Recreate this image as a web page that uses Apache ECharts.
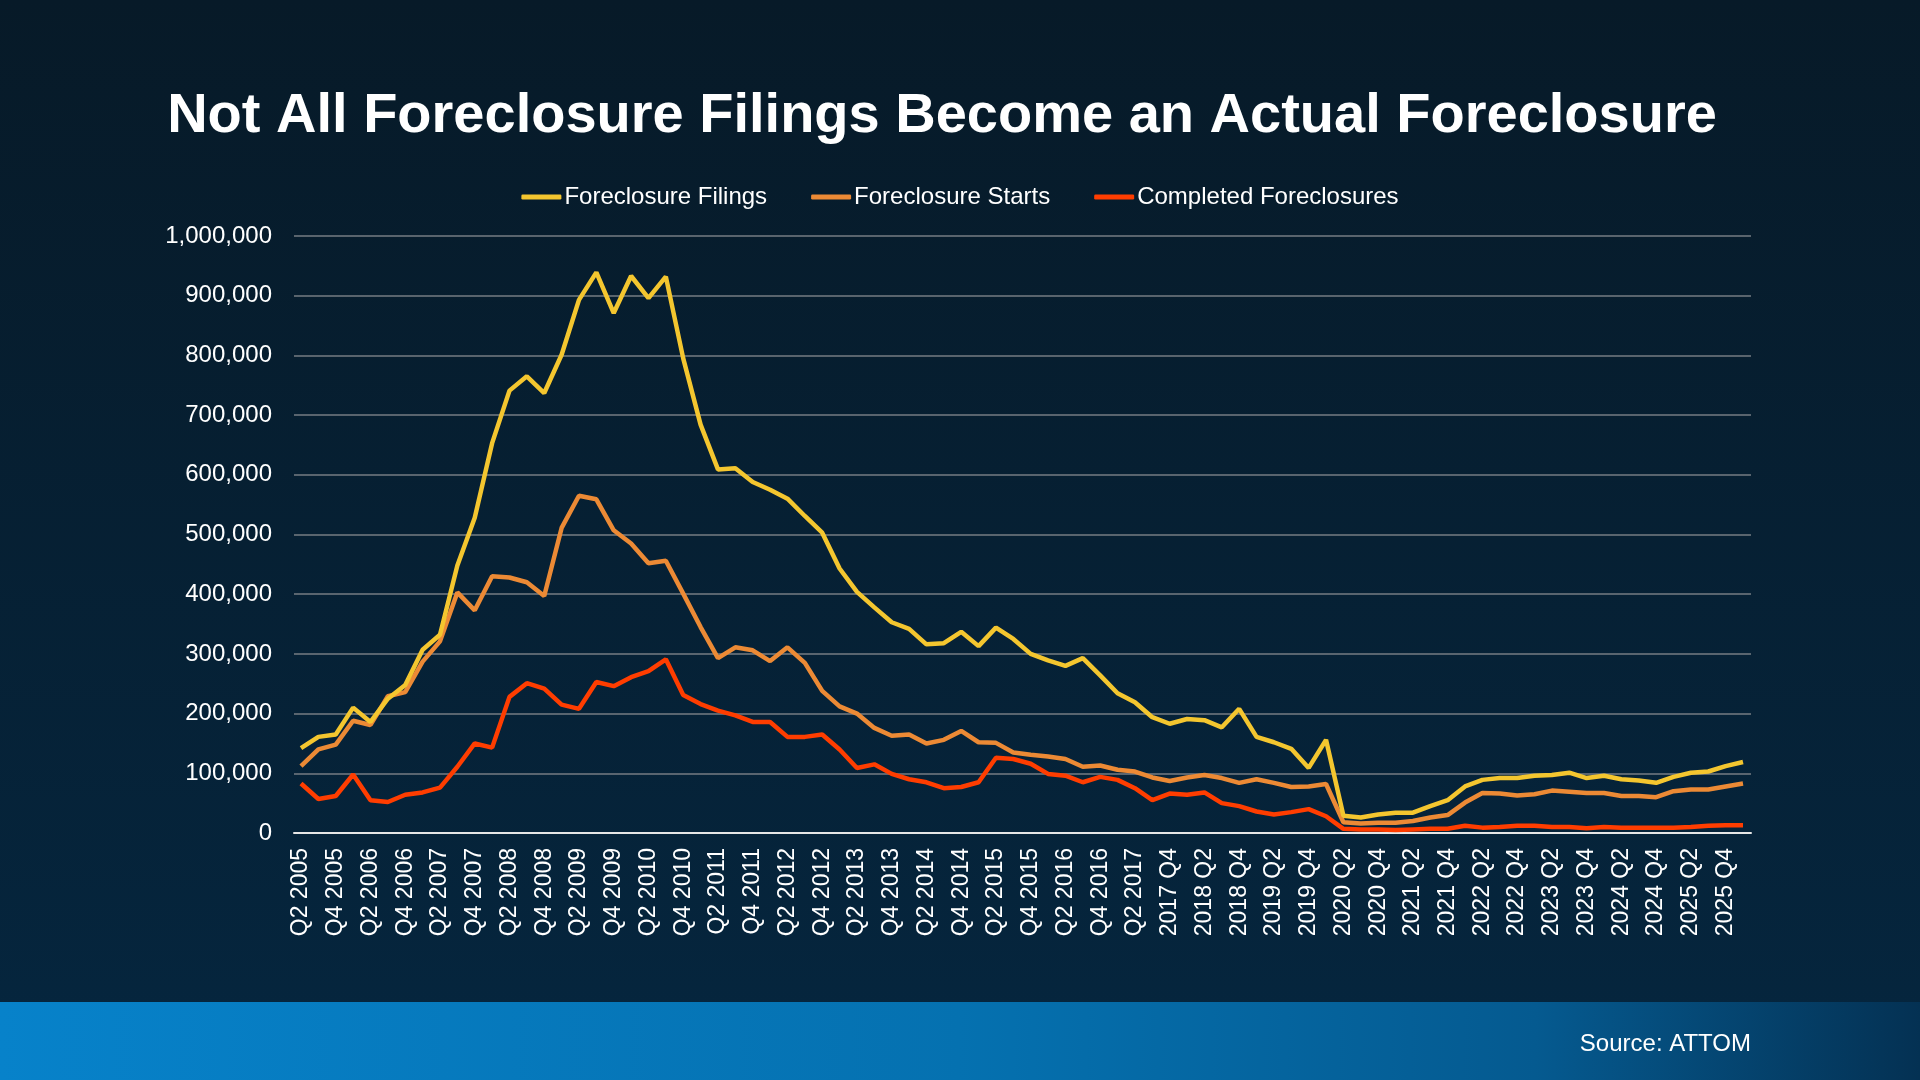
<!DOCTYPE html>
<html>
<head>
<meta charset="utf-8">
<title>Not All Foreclosure Filings Become an Actual Foreclosure</title>
<script src="https://cdn.jsdelivr.net/npm/echarts@6/dist/echarts.min.js"></script>
<style>
  html, body { margin: 0; padding: 0; background: #061a28; }
  #main { width: 1920px; height: 1080px; }
</style>
</head>
<body>
<div id="main"></div>
<script>
// quarters, Q2 2005 .. Q1 2026
var quarters = [
  'Q2 2005','Q3 2005','Q4 2005','Q1 2006','Q2 2006','Q3 2006','Q4 2006','Q1 2007',
  'Q2 2007','Q3 2007','Q4 2007','Q1 2008','Q2 2008','Q3 2008','Q4 2008','Q1 2009',
  'Q2 2009','Q3 2009','Q4 2009','Q1 2010','Q2 2010','Q3 2010','Q4 2010','Q1 2011',
  'Q2 2011','Q3 2011','Q4 2011','Q1 2012','Q2 2012','Q3 2012','Q4 2012','Q1 2013',
  'Q2 2013','Q3 2013','Q4 2013','Q1 2014','Q2 2014','Q3 2014','Q4 2014','Q1 2015',
  'Q2 2015','Q3 2015','Q4 2015','Q1 2016','Q2 2016','Q3 2016','Q4 2016','Q1 2017',
  'Q2 2017','Q3 2017','2017 Q4','2018 Q1','2018 Q2','2018 Q3','2018 Q4','2019 Q1',
  '2019 Q2','2019 Q3','2019 Q4','2020 Q1','2020 Q2','2020 Q3','2020 Q4','2021 Q1',
  '2021 Q2','2021 Q3','2021 Q4','2022 Q1','2022 Q2','2022 Q3','2022 Q4','2023 Q1',
  '2023 Q2','2023 Q3','2023 Q4','2024 Q1','2024 Q2','2024 Q3','2024 Q4','2025 Q1',
  '2025 Q2','2025 Q3','2025 Q4','2026 Q1'
];

// values in thousands
var filings = [
  142,161,165,210,186,225,248,307,332,448,528,653,741,765,737,801,
  893,939,871,933,896,932,795,684,609,611,588,575,560,531,503,443,
  404,378,353,342,316,318,337,313,344,325,300,289,280,293,264,234,
  219,194,183,191,189,177,208,161,152,141,109,156,29,26,31,34,
  34,45,55,78,89,92,92,96,97,101,92,96,90,88,84,94,
  101,103,112,119
];
var starts = [
  112,140,148,188,181,229,236,287,321,403,373,430,428,420,397,511,
  565,559,507,485,452,456,401,345,293,311,306,288,311,285,238,212,
  200,176,163,165,150,156,171,152,151,135,131,128,124,111,113,106,
  103,93,87,93,97,92,84,90,84,77,78,82,18,16,17,17,
  20,26,30,51,67,66,63,65,71,69,67,67,62,62,60,70,
  73,73,78,83
];
var completed = [
  83,57,62,98,55,52,64,68,76,111,150,143,228,251,242,215,
  208,253,246,261,271,291,231,216,205,197,186,186,161,161,165,140,
  109,115,99,90,85,75,77,85,126,124,116,99,96,85,94,89,
  75,55,66,64,68,50,45,36,31,35,40,28,7,6,6,5,
  6,7,7,12,9,10,12,12,10,10,8,10,9,9,9,9,
  10,12,13,13
];

var seriesNames = ['Foreclosure Filings', 'Foreclosure Starts', 'Completed Foreclosures'];
var colors = ['#F4C62F', '#EC8A35', '#FF3D00'];
var font = '"Liberation Sans", Arial, Helvetica, sans-serif';

function toUnits(arr) {
  return arr.map(function (v) { return v * 1000; });
}

var myChart = echarts.init(document.getElementById('main'), null, { renderer: 'canvas' });

myChart.setOption({
  animation: false,
  backgroundColor: {
    type: 'linear', x: 0, y: 0, x2: 0, y2: 1,
    colorStops: [
      { offset: 0, color: '#071a28' },
      { offset: 1, color: '#05263f' }
    ]
  },
  graphic: [
    {
      type: 'rect',
      shape: { x: 0, y: 1002, width: 1920, height: 78 },
      style: {
        fill: {
          type: 'linear', x: 0, y: 0, x2: 1, y2: 0.3,
          colorStops: [
            { offset: 0, color: '#0782ca' },
            { offset: 0.5, color: '#0571b0' },
            { offset: 0.8, color: '#055a90' },
            { offset: 1, color: '#043153' }
          ]
        }
      }
    },
    {
      type: 'text',
      x: 942, y: 117,
      style: {
        text: 'Not All Foreclosure Filings Become an Actual Foreclosure',
        fill: '#ffffff',
        font: 'bold 56px ' + font,
        textAlign: 'center',
        textVerticalAlign: 'middle'
      }
    },
    {
      type: 'text',
      x: 1751, y: 1044,
      style: {
        text: 'Source: ATTOM',
        fill: '#ffffff',
        font: '24px ' + font,
        textAlign: 'right',
        textVerticalAlign: 'middle'
      }
    }
  ],
  legend: {
    data: seriesNames,
    left: 'center',
    top: 180,
    icon: 'roundRect',
    itemWidth: 40,
    itemHeight: 5,
    itemGap: 44,
    textStyle: { color: '#ffffff', fontSize: 24, fontFamily: font, padding: [0, 0, 0, -2] }
  },
  grid: [
    { left: 294, right: 169, top: 236, bottom: 247 },
    { left: 301, right: 177, top: 236, bottom: 247 }
  ],
  xAxis: [
    {
      type: 'value', gridIndex: 0, min: 0, max: 1,
      axisLine: { show: true, lineStyle: { color: '#e6e6e6', width: 2 } },
      axisTick: { show: false },
      axisLabel: { show: false },
      splitLine: { show: false }
    },
    {
      type: 'category', gridIndex: 1,
      data: quarters,
      boundaryGap: false,
      axisLine: { show: false },
      axisTick: { show: false },
      splitLine: { show: false },
      axisLabel: {
        interval: 1,
        rotate: 90,
        margin: 15,
        color: '#ffffff',
        fontSize: 23,
        fontFamily: font
      }
    }
  ],
  yAxis: [
    {
      type: 'value', gridIndex: 0,
      min: 0, max: 1000000, interval: 100000,
      axisLine: { show: false },
      axisTick: { show: false },
      axisLabel: {
        margin: 22,
        color: '#ffffff',
        fontSize: 24,
        fontFamily: font,
        formatter: function (v) { return v.toLocaleString('en-US'); }
      },
      splitLine: { lineStyle: { color: '#767c83', width: 1.6 } }
    },
    {
      type: 'value', gridIndex: 1,
      min: 0, max: 1000000,
      show: false,
      splitLine: { show: false }
    }
  ],
  series: [
    {
      name: seriesNames[0], type: 'line', xAxisIndex: 1, yAxisIndex: 1,
      data: toUnits(filings), symbol: 'none', z: 5,
      lineStyle: { width: 4.5, color: colors[0] }, itemStyle: { color: colors[0] }
    },
    {
      name: seriesNames[1], type: 'line', xAxisIndex: 1, yAxisIndex: 1,
      data: toUnits(starts), symbol: 'none', z: 4,
      lineStyle: { width: 4.5, color: colors[1] }, itemStyle: { color: colors[1] }
    },
    {
      name: seriesNames[2], type: 'line', xAxisIndex: 1, yAxisIndex: 1,
      data: toUnits(completed), symbol: 'none', z: 3,
      lineStyle: { width: 4.5, color: colors[2] }, itemStyle: { color: colors[2] }
    }
  ]
});
</script>
</body>
</html>
